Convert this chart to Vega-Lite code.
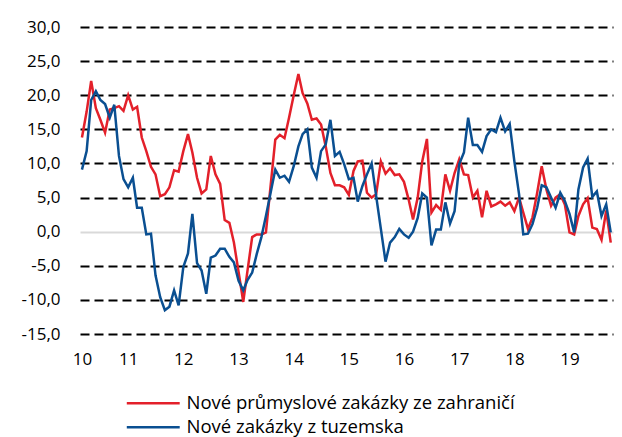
{
  "$schema": "https://vega.github.io/schema/vega-lite/v6.json",
  "width": 533,
  "height": 307,
  "autosize": {"type": "none"},
  "padding": {"left": 80, "top": 27, "right": 9, "bottom": 103},
  "background": "white",
  "config": {
    "view": {"stroke": null},
    "font": "Open Sans",
    "axis": {"labelFont": "Open Sans", "labelFontSize": 17, "labelColor": "#000000", "domain": false, "ticks": false, "title": null, "labelOverlap": false},
    "legend": {"labelFont": "Open Sans", "labelFontSize": 18.5, "labelColor": "#000000"}
  },
  "data": {
    "values": [
      {"d": "2010-03-01", "zahranici": 13.8, "tuzemsko": 9.1},
      {"d": "2010-04-01", "zahranici": 17.6, "tuzemsko": 11.8},
      {"d": "2010-05-01", "zahranici": 22.1, "tuzemsko": 19.3},
      {"d": "2010-06-01", "zahranici": 18.1, "tuzemsko": 20.6},
      {"d": "2010-07-01", "zahranici": 16.4, "tuzemsko": 19.3},
      {"d": "2010-08-01", "zahranici": 14.5, "tuzemsko": 18.7},
      {"d": "2010-09-01", "zahranici": 17.9, "tuzemsko": 16.7},
      {"d": "2010-10-01", "zahranici": 18.1, "tuzemsko": 18.6},
      {"d": "2010-11-01", "zahranici": 18.4, "tuzemsko": 11.1},
      {"d": "2010-12-01", "zahranici": 17.7, "tuzemsko": 7.7},
      {"d": "2011-01-01", "zahranici": 20.0, "tuzemsko": 6.5},
      {"d": "2011-02-01", "zahranici": 17.9, "tuzemsko": 7.9},
      {"d": "2011-03-01", "zahranici": 18.3, "tuzemsko": 3.5},
      {"d": "2011-04-01", "zahranici": 13.8, "tuzemsko": 3.5},
      {"d": "2011-05-01", "zahranici": 11.8, "tuzemsko": -0.4},
      {"d": "2011-06-01", "zahranici": 9.5, "tuzemsko": -0.3},
      {"d": "2011-07-01", "zahranici": 8.4, "tuzemsko": -6.4},
      {"d": "2011-08-01", "zahranici": 5.2, "tuzemsko": -9.6},
      {"d": "2011-09-01", "zahranici": 5.5, "tuzemsko": -11.5},
      {"d": "2011-10-01", "zahranici": 6.5, "tuzemsko": -11.0},
      {"d": "2011-11-01", "zahranici": 9.0, "tuzemsko": -8.6},
      {"d": "2011-12-01", "zahranici": 8.8, "tuzemsko": -10.8},
      {"d": "2012-01-01", "zahranici": 11.8, "tuzemsko": -5.2},
      {"d": "2012-02-01", "zahranici": 14.3, "tuzemsko": -3.2},
      {"d": "2012-03-01", "zahranici": 11.6, "tuzemsko": 2.6},
      {"d": "2012-04-01", "zahranici": 7.9, "tuzemsko": -4.6},
      {"d": "2012-05-01", "zahranici": 5.6, "tuzemsko": -5.7},
      {"d": "2012-06-01", "zahranici": 6.2, "tuzemsko": -9.1},
      {"d": "2012-07-01", "zahranici": 11.1, "tuzemsko": -3.8},
      {"d": "2012-08-01", "zahranici": 8.4, "tuzemsko": -3.5},
      {"d": "2012-09-01", "zahranici": 7.0, "tuzemsko": -2.5},
      {"d": "2012-10-01", "zahranici": 1.7, "tuzemsko": -2.5},
      {"d": "2012-11-01", "zahranici": 1.3, "tuzemsko": -3.7},
      {"d": "2012-12-01", "zahranici": -1.6, "tuzemsko": -4.5},
      {"d": "2013-01-01", "zahranici": -5.9, "tuzemsko": -7.2},
      {"d": "2013-02-01", "zahranici": -10.3, "tuzemsko": -8.6},
      {"d": "2013-03-01", "zahranici": -5.7, "tuzemsko": -7.1},
      {"d": "2013-04-01", "zahranici": -0.8, "tuzemsko": -6.0},
      {"d": "2013-05-01", "zahranici": -0.4, "tuzemsko": -3.3},
      {"d": "2013-06-01", "zahranici": -0.4, "tuzemsko": -0.8},
      {"d": "2013-07-01", "zahranici": -0.1, "tuzemsko": 2.3},
      {"d": "2013-08-01", "zahranici": 6.7, "tuzemsko": 5.7},
      {"d": "2013-09-01", "zahranici": 13.5, "tuzemsko": 9.1},
      {"d": "2013-10-01", "zahranici": 14.2, "tuzemsko": 7.9},
      {"d": "2013-11-01", "zahranici": 13.7, "tuzemsko": 8.2},
      {"d": "2013-12-01", "zahranici": 16.7, "tuzemsko": 7.3},
      {"d": "2014-01-01", "zahranici": 20.0, "tuzemsko": 9.6},
      {"d": "2014-02-01", "zahranici": 23.1, "tuzemsko": 12.5},
      {"d": "2014-03-01", "zahranici": 20.3, "tuzemsko": 14.3},
      {"d": "2014-04-01", "zahranici": 18.8, "tuzemsko": 15.0},
      {"d": "2014-05-01", "zahranici": 16.4, "tuzemsko": 9.4},
      {"d": "2014-06-01", "zahranici": 16.6, "tuzemsko": 7.9},
      {"d": "2014-07-01", "zahranici": 15.7, "tuzemsko": 11.8},
      {"d": "2014-08-01", "zahranici": 12.5, "tuzemsko": 12.8},
      {"d": "2014-09-01", "zahranici": 8.6, "tuzemsko": 16.4},
      {"d": "2014-10-01", "zahranici": 6.8, "tuzemsko": 11.1},
      {"d": "2014-11-01", "zahranici": 6.8, "tuzemsko": 11.7},
      {"d": "2014-12-01", "zahranici": 6.5, "tuzemsko": 9.9},
      {"d": "2015-01-01", "zahranici": 5.4, "tuzemsko": 7.7},
      {"d": "2015-02-01", "zahranici": 8.9, "tuzemsko": 7.9},
      {"d": "2015-03-01", "zahranici": 10.3, "tuzemsko": 4.4},
      {"d": "2015-04-01", "zahranici": 10.4, "tuzemsko": 6.7},
      {"d": "2015-05-01", "zahranici": 5.7, "tuzemsko": 8.4},
      {"d": "2015-06-01", "zahranici": 5.0, "tuzemsko": 10.0},
      {"d": "2015-07-01", "zahranici": 5.5, "tuzemsko": 5.2},
      {"d": "2015-08-01", "zahranici": 10.3, "tuzemsko": 0.4},
      {"d": "2015-09-01", "zahranici": 8.5, "tuzemsko": -4.4},
      {"d": "2015-10-01", "zahranici": 9.3, "tuzemsko": -1.6},
      {"d": "2015-11-01", "zahranici": 8.3, "tuzemsko": -0.8},
      {"d": "2015-12-01", "zahranici": 8.4, "tuzemsko": 0.4},
      {"d": "2016-01-01", "zahranici": 7.3, "tuzemsko": -0.4},
      {"d": "2016-02-01", "zahranici": 4.7, "tuzemsko": -0.9},
      {"d": "2016-03-01", "zahranici": 1.8, "tuzemsko": 0.0},
      {"d": "2016-04-01", "zahranici": 5.0, "tuzemsko": 2.0},
      {"d": "2016-05-01", "zahranici": 10.3, "tuzemsko": 5.6},
      {"d": "2016-06-01", "zahranici": 13.6, "tuzemsko": 5.0},
      {"d": "2016-07-01", "zahranici": 2.8, "tuzemsko": -2.0},
      {"d": "2016-08-01", "zahranici": 3.9, "tuzemsko": 0.3},
      {"d": "2016-09-01", "zahranici": 3.2, "tuzemsko": 0.3},
      {"d": "2016-10-01", "zahranici": 8.4, "tuzemsko": 4.3},
      {"d": "2016-11-01", "zahranici": 6.0, "tuzemsko": 1.2},
      {"d": "2016-12-01", "zahranici": 8.6, "tuzemsko": 3.0},
      {"d": "2017-01-01", "zahranici": 10.6, "tuzemsko": 9.9},
      {"d": "2017-02-01", "zahranici": 8.4, "tuzemsko": 11.6},
      {"d": "2017-03-01", "zahranici": 8.3, "tuzemsko": 16.7},
      {"d": "2017-04-01", "zahranici": 5.0, "tuzemsko": 12.7},
      {"d": "2017-05-01", "zahranici": 6.0, "tuzemsko": 12.7},
      {"d": "2017-06-01", "zahranici": 2.1, "tuzemsko": 11.7},
      {"d": "2017-07-01", "zahranici": 6.0, "tuzemsko": 14.0},
      {"d": "2017-08-01", "zahranici": 3.7, "tuzemsko": 15.0},
      {"d": "2017-09-01", "zahranici": 4.0, "tuzemsko": 14.6},
      {"d": "2017-10-01", "zahranici": 4.4, "tuzemsko": 16.7},
      {"d": "2017-11-01", "zahranici": 3.8, "tuzemsko": 14.7},
      {"d": "2017-12-01", "zahranici": 4.3, "tuzemsko": 15.8},
      {"d": "2018-01-01", "zahranici": 3.0, "tuzemsko": 10.3},
      {"d": "2018-02-01", "zahranici": 5.0, "tuzemsko": 5.5},
      {"d": "2018-03-01", "zahranici": 2.8, "tuzemsko": -0.4},
      {"d": "2018-04-01", "zahranici": 0.4, "tuzemsko": -0.3},
      {"d": "2018-05-01", "zahranici": 2.1, "tuzemsko": 1.1},
      {"d": "2018-06-01", "zahranici": 5.7, "tuzemsko": 3.5},
      {"d": "2018-07-01", "zahranici": 9.6, "tuzemsko": 6.8},
      {"d": "2018-08-01", "zahranici": 6.2, "tuzemsko": 6.5},
      {"d": "2018-09-01", "zahranici": 3.8, "tuzemsko": 5.0},
      {"d": "2018-10-01", "zahranici": 5.0, "tuzemsko": 3.5},
      {"d": "2018-11-01", "zahranici": 5.5, "tuzemsko": 5.7},
      {"d": "2018-12-01", "zahranici": 4.0, "tuzemsko": 4.5},
      {"d": "2019-01-01", "zahranici": -0.1, "tuzemsko": 2.6},
      {"d": "2019-02-01", "zahranici": -0.4, "tuzemsko": -0.1},
      {"d": "2019-03-01", "zahranici": 2.3, "tuzemsko": 6.2},
      {"d": "2019-04-01", "zahranici": 4.0, "tuzemsko": 9.4},
      {"d": "2019-05-01", "zahranici": 4.9, "tuzemsko": 10.7},
      {"d": "2019-06-01", "zahranici": 0.6, "tuzemsko": 5.1},
      {"d": "2019-07-01", "zahranici": 0.4, "tuzemsko": 5.9},
      {"d": "2019-08-01", "zahranici": -1.2, "tuzemsko": 2.3},
      {"d": "2019-09-01", "zahranici": 3.1, "tuzemsko": 4.0},
      {"d": "2019-10-01", "zahranici": -1.6, "tuzemsko": -0.1}
    ]
  },
  "encoding": {
    "x": {
      "field": "d",
      "type": "temporal",
      "scale": {
        "type": "utc",
        "domain": [
          {"year": 2010, "month": 2, "date": 16, "utc": true},
          {"year": 2019, "month": 10, "date": 16, "utc": true}
        ]
      },
      "axis": {
        "grid": false,
        "labelPadding": 17,
        "tickCount": 20,
        "values": [
          {"year": 2010, "month": 3, "date": 1, "utc": true},
          {"year": 2011, "month": 1, "date": 1, "utc": true},
          {"year": 2012, "month": 1, "date": 1, "utc": true},
          {"year": 2013, "month": 1, "date": 1, "utc": true},
          {"year": 2014, "month": 1, "date": 1, "utc": true},
          {"year": 2015, "month": 1, "date": 1, "utc": true},
          {"year": 2016, "month": 1, "date": 1, "utc": true},
          {"year": 2017, "month": 1, "date": 1, "utc": true},
          {"year": 2018, "month": 1, "date": 1, "utc": true},
          {"year": 2019, "month": 1, "date": 1, "utc": true}
        ],
        "labelExpr": "utcFormat(datum.value, '%y')",
        "labelFlush": false,
        "labelOverlap": false
      }
    }
  },
  "layer": [
    {
      "mark": {"type": "line", "strokeWidth": 2.5, "clip": false},
      "encoding": {
        "y": {
          "field": "zahranici",
          "type": "quantitative",
          "scale": {"domain": [-15, 30], "nice": false, "zero": false},
          "axis": {
            "values": [-15, -10, -5, 0, 5, 10, 15, 20, 25, 30],
            "tickCount": 20,
            "labelExpr": "datum.value + ',0'",
            "labelPadding": 20,
            "labelOverlap": false,
            "labelFlush": false,
            "grid": true,
            "gridColor": {"condition": {"test": "datum.value === 0", "value": "#d9d9d9"}, "value": "#000000"},
            "gridDash": {"condition": {"test": "datum.value === 0", "value": []}, "value": [9, 5]},
            "gridWidth": 2
          }
        },
        "color": {
          "datum": "Nové průmyslové zakázky ze zahraničí",
          "type": "nominal",
          "scale": {
            "domain": ["Nové průmyslové zakázky ze zahraničí", "Nové zakázky z tuzemska"],
            "range": ["#e3202a", "#0a4f91"]
          },
          "legend": {
            "title": null,
            "orient": "none",
            "legendX": 64,
            "legendY": 367,
            "direction": "vertical",
            "symbolType": "M-5,0H5",
            "symbolSize": 112,
            "symbolStrokeWidth": 2.5,
            "labelOffset": 24,
            "labelLimit": 0,
            "rowPadding": 5,
            "padding": 0
          }
        }
      }
    },
    {
      "mark": {"type": "line", "strokeWidth": 2.5, "clip": false},
      "encoding": {
        "y": {"field": "tuzemsko", "type": "quantitative"},
        "color": {"datum": "Nové zakázky z tuzemska", "type": "nominal"}
      }
    }
  ]
}
